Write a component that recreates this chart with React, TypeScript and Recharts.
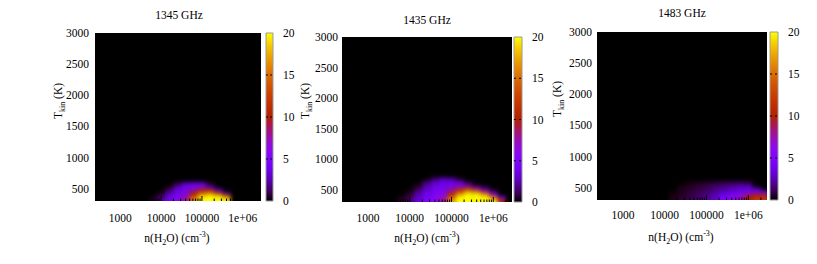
import React from 'react'
import { ComposedChart, BarChart, Bar, XAxis, YAxis, ReferenceArea } from 'recharts'

const W = 817
const H = 264
const FONT = '"Liberation Serif", "DejaVu Serif", serif'

/* ---------- data ---------- */

const titles = ['1345 GHz', '1435 GHz', '1483 GHz']
// x axis runs in log10 n(H2O)
const densityTicks = [3, 4, 5, 6]
const densityLabels = ['1000', '10000', '100000', '1e+06']
const tempTicks = [500, 1000, 1500, 2000, 2500, 3000]
const scaleTicks = [0, 5, 10, 15, 20]

// log10 n(H2O) cell centres, 0.2 dex wide
const logDensity = [3.6, 3.8, 4.0, 4.2, 4.4, 4.6, 4.8, 5.0, 5.2, 5.4, 5.6, 5.8, 6.0, 6.2, 6.4]
// T_kin cell centres, 50 K tall (bottom row first)
const tempRows = [325, 375, 425, 475, 525, 575, 625, 675]

const map1345 = [
  [0, 0.5, 2, 4, 5.5, 8, 16, 20, 20, 20, 20, 0, 0, 0, 0],
  [0, 0, 1.2, 3.5, 5.2, 7, 13, 19, 20, 20, 15, 0, 0, 0, 0],
  [0, 0, 0.3, 2.8, 4.8, 6, 10, 15, 17, 12, 2, 0, 0, 0, 0],
  [0, 0, 0, 1.5, 4.2, 5.5, 7, 10, 10, 3.5, 0, 0, 0, 0, 0],
  [0, 0, 0, 0.3, 3.2, 4.8, 5.8, 6.5, 3.5, 0, 0, 0, 0, 0, 0],
  [0, 0, 0, 0, 0.8, 3.5, 4.5, 4, 0.5, 0, 0, 0, 0, 0, 0],
  [0, 0, 0, 0, 0, 0, 0, 0, 0, 0, 0, 0, 0, 0, 0],
  [0, 0, 0, 0, 0, 0, 0, 0, 0, 0, 0, 0, 0, 0, 0],
]

const map1435 = [
  [0, 0.5, 1.5, 3.2, 4.8, 5.8, 8, 17, 20, 20, 20, 20, 20, 10, 0],
  [0, 0.2, 1.1, 3, 4.5, 5.5, 7, 14, 20, 20, 20, 20, 15, 4, 0],
  [0, 0, 0.6, 2.5, 4.3, 5.3, 6.2, 11, 17, 20, 20, 17, 7, 0, 0],
  [0, 0, 0.2, 1.8, 3.8, 5, 5.5, 8.5, 13, 17, 15, 8, 1.5, 0, 0],
  [0, 0, 0, 1, 3, 4.5, 5, 6.5, 9, 11, 7, 2, 0, 0, 0],
  [0, 0, 0, 0.3, 2.5, 4, 4.5, 5, 5.5, 4, 0.5, 0, 0, 0, 0],
  [0, 0, 0, 0, 1.5, 3, 4, 4.5, 3.5, 0.5, 0, 0, 0, 0, 0],
  [0, 0, 0, 0, 0, 1.5, 3, 2.5, 0.5, 0, 0, 0, 0, 0, 0],
]

const map1483 = [
  [0, 0, 0, 0.3, 0.6, 1, 1.4, 2, 2.8, 4.5, 5.5, 7, 10, 12, 12],
  [0, 0, 0, 0.2, 0.5, 0.9, 1.3, 1.8, 2.6, 4.2, 5.3, 6.5, 8.5, 10, 9.5],
  [0, 0, 0, 0.1, 0.4, 0.8, 1.1, 1.6, 2.2, 3, 3.8, 4.6, 5.5, 6, 5.5],
  [0, 0, 0, 0, 0.3, 0.6, 0.9, 1.3, 1.8, 2.4, 3, 3.6, 4, 3, 0],
  [0, 0, 0, 0, 0.2, 0.4, 0.7, 1, 1.3, 1.7, 2.1, 2.5, 2.6, 0, 0],
  [0, 0, 0, 0, 0, 0.2, 0.4, 0.6, 0.8, 1, 1.2, 1.3, 1, 0, 0],
  [0, 0, 0, 0, 0, 0, 0, 0, 0, 0, 0, 0, 0, 0, 0],
  [0, 0, 0, 0, 0, 0, 0, 0, 0, 0, 0, 0, 0, 0, 0],
]

const maps = [map1345, map1435, map1483]

/* ---------- axes / layout ---------- */

const X_MIN = Math.log10(240)
const X_MAX = Math.log10(2.8e6)
const T_MIN = 300
const T_MAX = 3000
const Z_MAX = 20
// minor log ticks 2..9 x 10^k inside the range
const minorTicks: number[] = []
for (const d of [2, 3, 4, 5, 6]) {
  for (let m = 2; m <= 9; m++) {
    const v = d + Math.log10(m)
    if (v > X_MIN && v < X_MAX) minorTicks.push(v)
  }
}
const allXTicks = [...densityTicks, ...minorTicks].sort((a, b) => a - b)

// the axes need rows to exist; one row per density column
const axisRows = logDensity.map((L) => ({ L, T: T_MIN }))

const layouts = [
  { l: 95, t: 33, r: 261, b: 201, cbL: 266, cbR: 273, titleX: 179, titleY: 19, yTitleX: 62, yTitleY: 101, xTitleX: 177, xTitleY: 242, yGap: 6, xLabY: 222 },
  { l: 342, t: 37, r: 512, b: 202, cbL: 514, cbR: 522, titleX: 427, titleY: 24, yTitleX: 309, yTitleY: 101, xTitleX: 427, xTitleY: 242, yGap: 4, xLabY: 222 },
  { l: 597, t: 32, r: 767, b: 200, cbL: 770, cbR: 778, titleX: 682, titleY: 17, yTitleX: 561, yTitleY: 99, xTitleX: 681, xTitleY: 241, yGap: 5, xLabY: 219 },
]

// gnuplot default pm3d palette (rgbformulae 7,5,15)
function palette(f: number) {
  const x = Math.max(0, Math.min(1, f))
  const r = Math.sqrt(x)
  const g = x * x * x
  const b = Math.max(0, Math.sin(2 * Math.PI * x))
  return `rgb(${Math.round(r * 255)},${Math.round(g * 255)},${Math.round(b * 255)})`
}

function DensityTick(props: any) {
  const { x, y, payload, labY } = props
  const i = densityTicks.indexOf(payload.value)
  const major = i >= 0
  return (
    <g>
      <line x1={x} x2={x} y1={y} y2={y - (major ? 5 : 2.5)} stroke="#000" strokeWidth={1} />
      {major && (
        <text x={x} y={labY} textAnchor="middle" fontFamily={FONT} fontSize={11.5} fill="#000">
          {densityLabels[i]}
        </text>
      )}
    </g>
  )
}

function ScaleTick(props: any) {
  const { x, y, payload, barL, barR } = props
  const inner = payload.value > 0 && payload.value < Z_MAX
  return (
    <g>
      {inner && <line x1={barL} x2={barL + 3} y1={y} y2={y} stroke="#000" strokeDasharray="2 1" />}
      {inner && <line x1={barR - 3} x2={barR} y1={y} y2={y} stroke="#000" strokeDasharray="2 1" />}
      <text x={x + 10} y={y} dy="0.36em" textAnchor="start" fontFamily={FONT} fontSize={11.5} fill="#000">
        {payload.value}
      </text>
    </g>
  )
}

function Panel({ idx }: { idx: number }) {
  const lay = layouts[idx]
  const grid = maps[idx]
  const pw = lay.r - lay.l
  const ph = lay.b - lay.t
  const pad = 12
  const gradId = `cb-grad-${idx}`

  const cells = grid.flatMap((row, ri) =>
    row.map((v, ci) => {
      if (v <= 0) return null
      const L = logDensity[ci]
      const T = tempRows[ri]
      return (
        <ReferenceArea
          key={`${ri}-${ci}`}
          x1={L - 0.1}
          x2={L + 0.1}
          y1={ri === 0 ? 100 : T - 25}
          y2={T + 25}
          fill={palette(v / Z_MAX)}
          fillOpacity={1}
          stroke="none"
          ifOverflow="visible"
        />
      )
    })
  )

  return (
    <>
      {/* heat map layer, softened like pm3d interpolation */}
      <div style={{ position: 'absolute', left: lay.l, top: lay.t, width: pw, height: ph, overflow: 'hidden', background: '#000' }}>
        <div style={{ position: 'absolute', left: -pad, top: -pad, filter: 'blur(2px)' }}>
          <ComposedChart
            width={pw + 2 * pad}
            height={ph + 2 * pad}
            data={axisRows}
            margin={{ top: pad, right: pad, bottom: pad, left: pad }}
          >
            <XAxis dataKey="L" type="number" domain={[X_MIN, X_MAX]} allowDataOverflow hide />
            <YAxis dataKey="T" type="number" domain={[T_MIN, T_MAX]} allowDataOverflow hide />
            {cells}
          </ComposedChart>
        </div>
      </div>

      {/* axes */}
      <div style={{ position: 'absolute', left: 0, top: 0 }}>
        <ComposedChart
          width={W}
          height={H}
          data={axisRows}
          margin={{ top: lay.t, right: W - lay.r, bottom: H - lay.b - 30, left: lay.l - 50 }}
        >
          <XAxis
            dataKey="L"
            type="number"
            domain={[X_MIN, X_MAX]}
            allowDataOverflow
            ticks={allXTicks}
            interval={0}
            height={30}
            axisLine={false}
            tickLine={false}
            tickSize={0}
            tickMargin={0}
            tick={<DensityTick labY={lay.xLabY} />}
          />
          <YAxis
            dataKey="T"
            type="number"
            domain={[T_MIN, T_MAX]}
            allowDataOverflow
            ticks={tempTicks}
            interval={0}
            width={50}
            axisLine={false}
            tickLine={false}
            tickSize={0}
            tickMargin={lay.yGap}
            tick={{ fill: '#000', fontSize: 11.5, fontFamily: FONT }}
          />
        </ComposedChart>
      </div>

      {/* colour box */}
      <div style={{ position: 'absolute', left: 0, top: 0 }}>
        <BarChart
          width={W}
          height={H}
          data={[{ name: 'scale', z: Z_MAX }]}
          barCategoryGap={0}
          margin={{ top: lay.t, right: W - lay.cbR - 30, bottom: H - lay.b, left: lay.cbL }}
        >
          <defs>
            <linearGradient id={gradId} x1="0" y1="0" x2="0" y2="1">
              {Array.from({ length: 21 }, (_, i) => (
                <stop key={i} offset={`${i * 5}%`} stopColor={palette(1 - i / 20)} />
              ))}
            </linearGradient>
          </defs>
          <XAxis dataKey="name" hide />
          <YAxis
            orientation="right"
            type="number"
            domain={[0, Z_MAX]}
            ticks={scaleTicks}
            interval={0}
            width={30}
            axisLine={false}
            tickLine={false}
            tickSize={0}
            tickMargin={0}
            tick={<ScaleTick barL={lay.cbL} barR={lay.cbR} />}
          />
          <Bar dataKey="z" fill={`url(#${gradId})`} stroke="#9a9a9a" strokeWidth={1} isAnimationActive={false} />
        </BarChart>
      </div>

      {/* titles */}
      <svg width={W} height={H} style={{ position: 'absolute', left: 0, top: 0, pointerEvents: 'none' }}>
        <text x={lay.titleX} y={lay.titleY} textAnchor="middle" fontFamily={FONT} fontSize={11.5} fill="#000">
          {titles[idx]}
        </text>
        <text x={lay.xTitleX} y={lay.xTitleY} textAnchor="middle" fontFamily={FONT} fontSize={11.5} fill="#000">
          n(H<tspan dy={3} fontSize={8}>2</tspan>
          <tspan dy={-3}>O) (cm</tspan>
          <tspan dy={-5} fontSize={8}>-3</tspan>
          <tspan dy={5}>)</tspan>
        </text>
        <text
          x={lay.yTitleX}
          y={lay.yTitleY}
          transform={`rotate(-90 ${lay.yTitleX} ${lay.yTitleY})`}
          textAnchor="middle"
          fontFamily={FONT}
          fontSize={11.5}
          fill="#000"
        >
          T<tspan dy={3} fontSize={8}>kin</tspan>
          <tspan dy={-3}> (K)</tspan>
        </text>
      </svg>
    </>
  )
}

export default function App() {
  return (
    <div style={{ position: 'absolute', left: 0, top: 0, width: W, height: H, background: '#fff', overflow: 'hidden' }}>
      <Panel idx={0} />
      <Panel idx={1} />
      <Panel idx={2} />
    </div>
  )
}
